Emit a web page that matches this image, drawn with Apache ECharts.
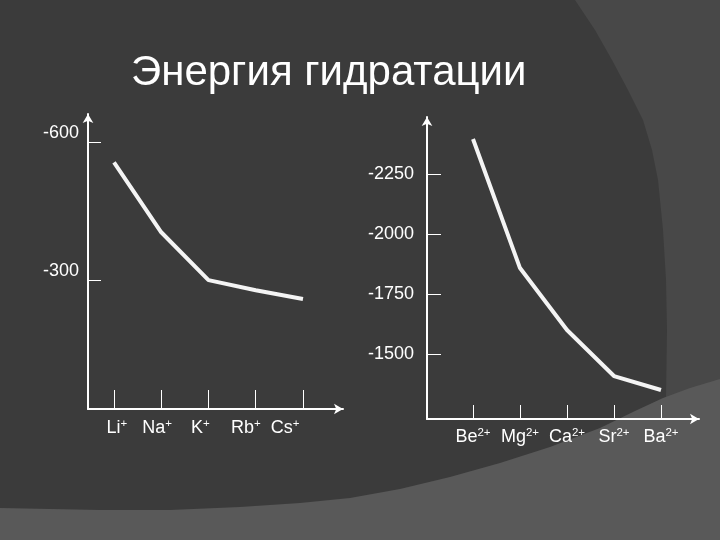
<!DOCTYPE html>
<html>
<head>
<meta charset="utf-8">
<script src="https://cdn.jsdelivr.net/npm/echarts@6/dist/echarts.min.js"></script>
<style>
html,body{margin:0;padding:0;background:#3b3b3b;}
#chart{width:720px;height:540px;}
</style>
</head>
<body>
<div id="chart"></div>
<script>
// ---- data ----
const titleText = 'Энергия гидратации';
const leftCategories = ['Li+', 'Na+', 'K+', 'Rb+', 'Cs+'];
const leftValues = [-556, -404, -300, -278, -259];
const leftTicks = [-600, -300];
const rightCategories = ['Be2+', 'Mg2+', 'Ca2+', 'Sr2+', 'Ba2+'];
const rightValues = [-2396, -1858, -1600, -1408, -1350];
const rightTicks = [-2250, -2000, -1750, -1500];

// ---- layout constants ----
const leftLabelShift = [0.06, -0.085, -0.17, -0.21, -0.38]; // category units

const chart = echarts.init(document.getElementById('chart'));
const FONT = 'Liberation Sans';
const WHITE = '#ffffff';

function ionLabel(cats) {
  return function (v) {
    const name = cats[Math.round(v)];
    const m = name.match(/^([A-Za-z]+)(.*)$/);
    return '{b|' + m[1] + '}{s|' + m[2] + '}';
  };
}
const plain = (v) => String(v);
const rich = {
  b: { fontSize: 18, lineHeight: 20, color: WHITE, fontFamily: FONT },
  s: { fontSize: 11.5, lineHeight: 14, color: WHITE, fontFamily: FONT, verticalAlign: 'top' }
};
const axisLine = {
  onZero: false,
  symbol: ['none', 'arrow'],
  symbolSize: [8, 9],
  lineStyle: { color: WHITE, width: 2 }
};
const idx = leftCategories.map((_, i) => i);

const bgMid = [[575,0],[595,30],[612,60],[628,90],[643,120],[652,150],[658,180],[663,230],[666,280],[667,330],[666,398],[720,380],[720,0]];
const bgLight = [[0,508],[100,510],[170,510],[240,507],[300,503],[350,498],[400,489],[450,477],[500,463],[550,447],[600,428],[635,411],[663,398],[690,388],[720,379],[720,540],[0,540]];

chart.setOption({
  animation: false,
  backgroundColor: '#3b3b3b',
  graphic: [
    { type: 'polygon', z: -10, silent: true, shape: { points: bgMid }, style: { fill: '#484848' } },
    { type: 'polygon', z: -9, silent: true, shape: { points: bgLight }, style: { fill: '#595959' } }
  ],
  title: {
    text: titleText,
    left: 131, top: 52, padding: 0,
    textStyle: { color: WHITE, fontSize: 42, fontWeight: 'normal', fontFamily: FONT }
  },
  grid: [
    { left: 88, top: 114, right: 377, bottom: 131 },
    { left: 427, top: 117, right: 21, bottom: 121 }
  ],
  xAxis: [
    {
      gridIndex: 0, type: 'value', min: -0.55, max: 4.847,
      axisLine: axisLine,
      splitLine: { show: false },
      axisTick: { customValues: idx, inside: true, length: 19, lineStyle: { color: WHITE, width: 1 } },
      axisLabel: {
        customValues: idx.map((i) => i + leftLabelShift[i]),
        formatter: ionLabel(leftCategories), rich: rich, margin: 9
      }
    },
    {
      gridIndex: 1, type: 'value', min: -0.979, max: 4.809,
      axisLine: axisLine,
      splitLine: { show: false },
      axisTick: { customValues: idx, inside: true, length: 14, lineStyle: { color: WHITE, width: 1 } },
      axisLabel: {
        customValues: idx,
        formatter: ionLabel(rightCategories), rich: rich, margin: 8
      }
    }
  ],
  yAxis: [
    {
      gridIndex: 0, type: 'value', inverse: true, min: -661, max: -20,
      axisLine: axisLine,
      splitLine: { show: false },
      axisTick: { customValues: leftTicks, inside: true, length: 13, lineStyle: { color: WHITE, width: 1 } },
      axisLabel: {
        customValues: leftTicks, formatter: plain, color: WHITE, fontSize: 18, fontFamily: FONT,
        margin: 9, verticalAlign: 'bottom', lineHeight: 18
      }
    },
    {
      gridIndex: 1, type: 'value', inverse: true, min: -2487.5, max: -1229,
      axisLine: axisLine,
      splitLine: { show: false },
      axisTick: { customValues: rightTicks, inside: true, length: 14, lineStyle: { color: WHITE, width: 1 } },
      axisLabel: {
        customValues: rightTicks, formatter: plain, color: WHITE, fontSize: 18, fontFamily: FONT, margin: 13
      }
    }
  ],
  series: [
    {
      type: 'line', xAxisIndex: 0, yAxisIndex: 0, symbol: 'none',
      data: leftValues.map((v, i) => [i, v]),
      lineStyle: { color: '#f4f4f4', width: 4, join: 'round' }
    },
    {
      type: 'line', xAxisIndex: 1, yAxisIndex: 1, symbol: 'none',
      data: rightValues.map((v, i) => [i, v]),
      lineStyle: { color: '#f4f4f4', width: 4, join: 'round' }
    }
  ]
});
</script>
</body>
</html>
